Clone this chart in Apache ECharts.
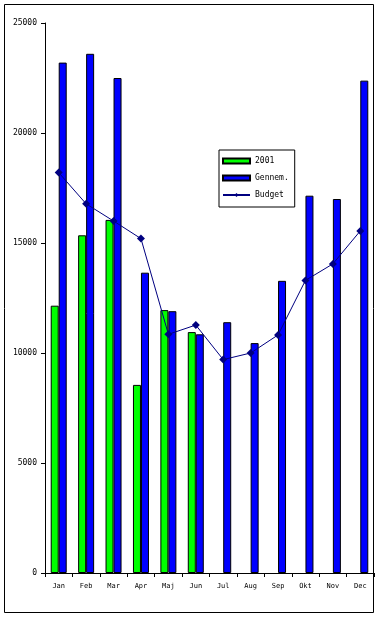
<!DOCTYPE html>
<html><head><meta charset="utf-8">
<script src="https://cdn.jsdelivr.net/npm/echarts@6/dist/echarts.min.js"></script>
<style>html,body{margin:0;padding:0;background:#fff}#c{width:381px;height:618px}</style>
</head><body><div id="c"></div>
<script>
const months = ['Jan','Feb','Mar','Apr','Maj','Jun','Jul','Aug','Sep','Okt','Nov','Dec'];
const s2001 = [12150, 15350, 16050, 8550, 11950, 10950, null, null, null, null, null, null];
const gennem = [23200, 23600, 22500, 13650, 11900, 10850, 11400, 10450, 13280, 17150, 17000, 22380];
const budget = [18200, 16780, 16000, 15200, 10850, 11270, 9700, 10000, 10820, 13300, 14050, 15550];
const yTicks = [0, 5000, 10000, 15000, 20000, 25000];

const font = 'DejaVu Sans Mono';
const chart = echarts.init(document.getElementById('c'), null, {renderer:'canvas'});
chart.setOption({
  animation: false,
  backgroundColor: '#fff',
  graphic: [{type:'rect', shape:{x:4.5,y:4.5,width:369,height:608}, style:{fill:'none', stroke:'#000', lineWidth:1}, z:-1}],
  grid: {left:45, right:7, top:23, bottom:45},
  legend: {
    orient:'vertical', left:219, top:150,
    backgroundColor:'#fff', borderColor:'#000', borderWidth:1,
    padding:[7,6,8,3], itemGap:9, itemWidth:27, itemHeight:5,
    textStyle:{fontFamily:font, fontSize:8, color:'#000'},
    data:[{name:'2001', icon:'rect'},{name:'Gennem.', icon:'rect'},{name:'Budget'}]
  },
  xAxis: {
    type:'category', data:months, boundaryGap:true,
    axisLine:{lineStyle:{color:'#000', width:1}},
    axisTick:{show:true, length:4, lineStyle:{color:'#000'}},
    axisLabel:{fontFamily:font, fontSize:7, color:'#000', margin:10}
  },
  yAxis: {
    type:'value', min:0, max:25000, interval:5000,
    splitLine:{show:false},
    axisLine:{show:true, lineStyle:{color:'#000', width:1}},
    axisTick:{show:true, length:4, lineStyle:{color:'#000'}},
    axisLabel:{fontFamily:font, fontSize:8, color:'#000', margin:8,
      formatter: v => yTicks.includes(v) ? String(v) : ''}
  },
  series: [
    {name:'2001', type:'bar', data:s2001, barWidth:8, barGap:'0%',
     itemStyle:{color:'#00ff00', borderColor:'#000', borderWidth:1}},
    {name:'Gennem.', type:'bar', data:gennem, barWidth:8, barGap:'0%',
     itemStyle:{color:'#0000ff', borderColor:'#000', borderWidth:1}},
    {name:'Budget', type:'line', data:budget, symbol:'diamond', symbolSize:8,
     lineStyle:{color:'#000080', width:1}, itemStyle:{color:'#000080'}, z:5}
  ]
});
</script></body></html>
